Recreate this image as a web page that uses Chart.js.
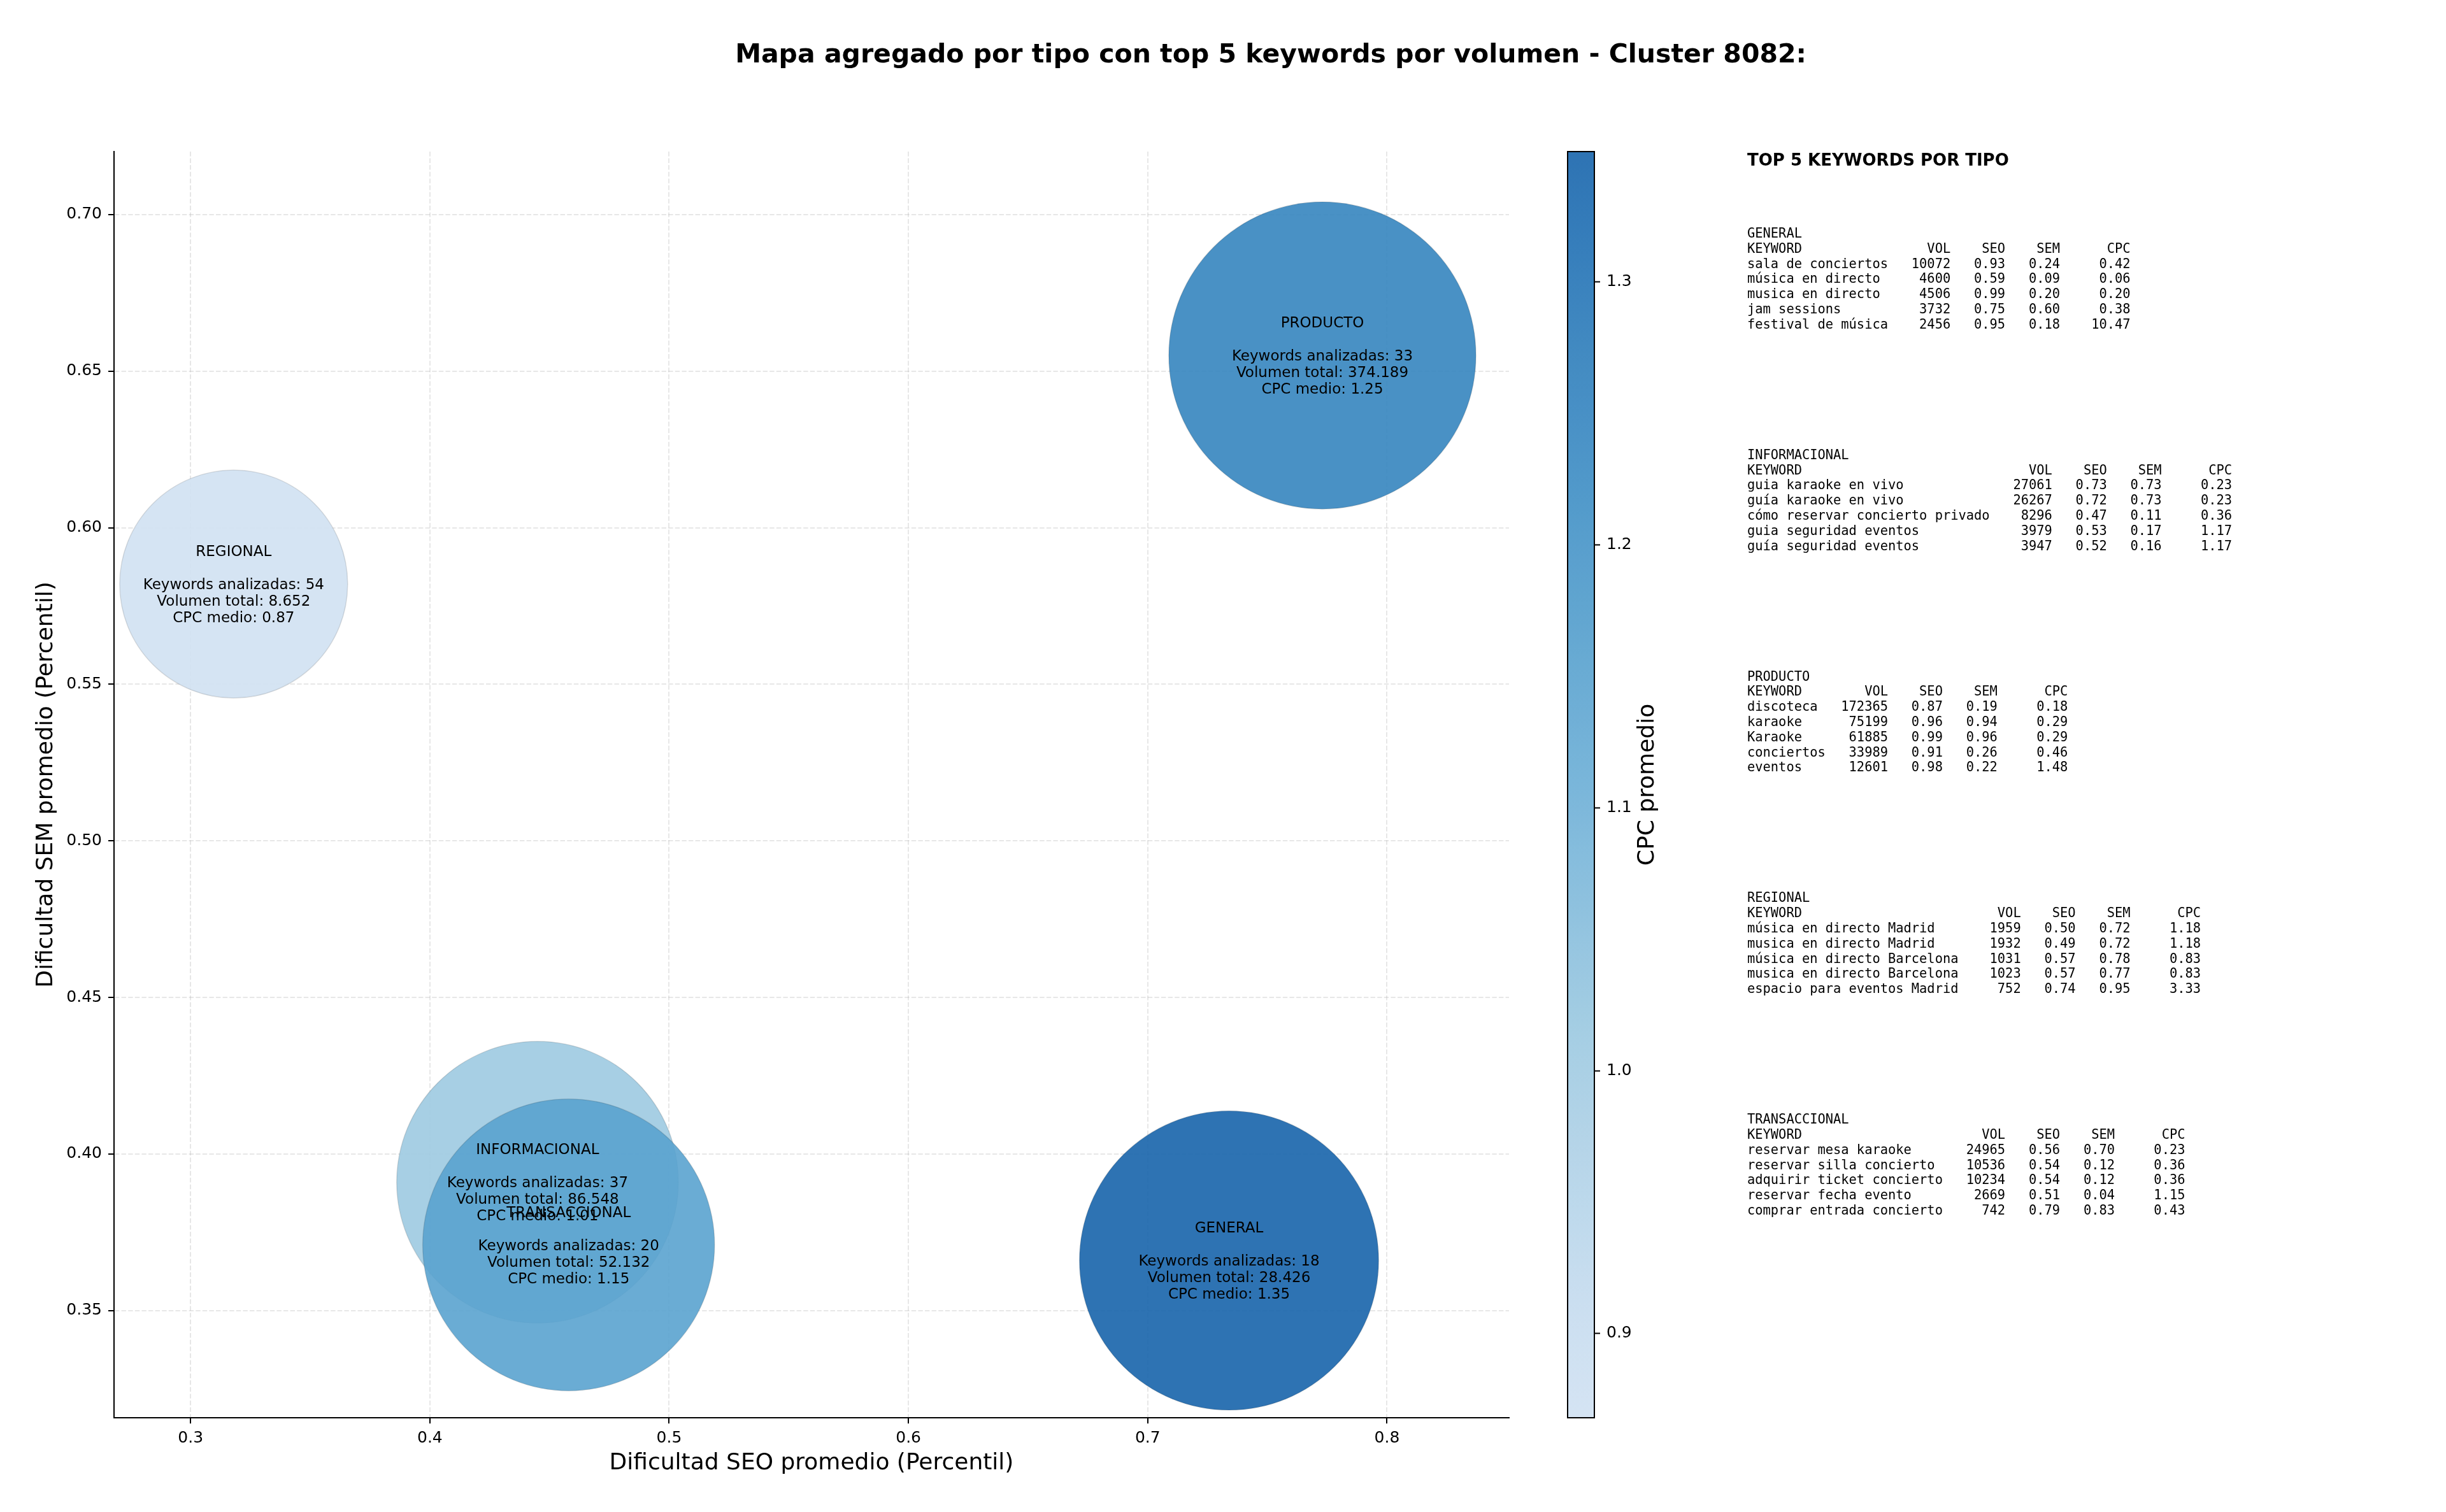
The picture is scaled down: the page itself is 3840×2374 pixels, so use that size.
<!DOCTYPE html>
<html>
<head>
<meta charset="utf-8">
<script src="https://cdn.jsdelivr.net/npm/chart.js@4.4.1/dist/chart.umd.min.js"></script>
<style>
  html, body { margin: 0; padding: 0; background: #fff; }
  #wrap { position: relative; width: 3840px; height: 2374px; overflow: hidden; }
  #main { position: absolute; left: 0; top: 0; width: 3840px; height: 2374px; }
  #cbar { position: absolute; left: 2400px; top: 0; width: 400px; height: 2374px; }
  .panel-title { position: absolute; left: 2743px; top: 235px; font: bold 26px/32px 'DejaVu Sans'; color: #000; white-space: pre; }
  pre.kw { position: absolute; left: 2743px; margin: 0; font: 20.4px/23.8px 'DejaVu Sans Mono'; color: #000; }
</style>
</head>
<body>
<div id="wrap">
  <canvas id="main" width="3840" height="2374"></canvas>
  <canvas id="cbar" width="400" height="2374"></canvas>
  <div id="panel"></div>
</div>
<script>
// Aggregated values per keyword type
var tipos = ['GENERAL', 'INFORMACIONAL', 'PRODUCTO', 'REGIONAL', 'TRANSACCIONAL'];
var seoMedio = [0.734, 0.445, 0.773, 0.318, 0.458];
var semMedio = [0.366, 0.391, 0.655, 0.582, 0.371];
var cpcMedio = [1.3496, 1.01, 1.25, 0.868, 1.15];
var numKeywords = [18, 37, 33, 54, 20];
var volumenTotal = [28426, 86548, 374189, 8652, 52132];
// marker area (pt^2) as passed to the scatter
var areaBurbuja = [35300, 31300, 37200, 20500, 33600];

// tick labels
var xTicks = [0.3, 0.4, 0.5, 0.6, 0.7, 0.8];
var yTicks = [0.35, 0.40, 0.45, 0.50, 0.55, 0.60, 0.65, 0.70];
var cbarTicks = [0.9, 1.0, 1.1, 1.2, 1.3];

// top 5 keywords per type: keyword, vol, seo, sem, cpc
var topGeneral = [
  ['sala de conciertos', 10072, 0.93, 0.24, 0.42],
  ['música en directo', 4600, 0.59, 0.09, 0.06],
  ['musica en directo', 4506, 0.99, 0.20, 0.20],
  ['jam sessions', 3732, 0.75, 0.60, 0.38],
  ['festival de música', 2456, 0.95, 0.18, 10.47]
];
var topInformacional = [
  ['guia karaoke en vivo', 27061, 0.73, 0.73, 0.23],
  ['guía karaoke en vivo', 26267, 0.72, 0.73, 0.23],
  ['cómo reservar concierto privado', 8296, 0.47, 0.11, 0.36],
  ['guia seguridad eventos', 3979, 0.53, 0.17, 1.17],
  ['guía seguridad eventos', 3947, 0.52, 0.16, 1.17]
];
var topProducto = [
  ['discoteca', 172365, 0.87, 0.19, 0.18],
  ['karaoke', 75199, 0.96, 0.94, 0.29],
  ['Karaoke', 61885, 0.99, 0.96, 0.29],
  ['conciertos', 33989, 0.91, 0.26, 0.46],
  ['eventos', 12601, 0.98, 0.22, 1.48]
];
var topRegional = [
  ['música en directo Madrid', 1959, 0.50, 0.72, 1.18],
  ['musica en directo Madrid', 1932, 0.49, 0.72, 1.18],
  ['música en directo Barcelona', 1031, 0.57, 0.78, 0.83],
  ['musica en directo Barcelona', 1023, 0.57, 0.77, 0.83],
  ['espacio para eventos Madrid', 752, 0.74, 0.95, 3.33]
];
var topTransaccional = [
  ['reservar mesa karaoke', 24965, 0.56, 0.70, 0.23],
  ['reservar silla concierto', 10536, 0.54, 0.12, 0.36],
  ['adquirir ticket concierto', 10234, 0.54, 0.12, 0.36],
  ['reservar fecha evento', 2669, 0.51, 0.04, 1.15],
  ['comprar entrada concierto', 742, 0.79, 0.83, 0.43]
];
var topPorTipo = [topGeneral, topInformacional, topProducto, topRegional, topTransaccional];

// Constants
var X_MIN = 0.268, X_MAX = 0.851;
var Y_MIN = 0.3158, Y_MAX = 0.7201;
var CPC_MIN = Math.min.apply(null, cpcMedio);
var CPC_MAX = Math.max.apply(null, cpcMedio);
var PX_PER_PT = 2.5;
var ALPHA = 0.9;
var GRID = 'rgba(176,176,176,0.3)';
var FONT = "'DejaVu Sans'";

Chart.defaults.font.family = FONT;
Chart.defaults.color = '#000';

// matplotlib Blues, used between 0.2 and 0.8
var BLUES = [[247,251,255],[222,235,247],[198,219,239],[158,202,225],[107,174,214],
             [66,146,198],[33,113,181],[8,81,156],[8,48,107]];

function blues(t) {
  var p = Math.max(0, Math.min(1, t)) * 8;
  var i = Math.min(7, Math.floor(p));
  var f = p - i;
  return BLUES[i].map(function (a, k) { return Math.round(a + (BLUES[i + 1][k] - a) * f); });
}

function colorFor(v) {
  var t = (v - CPC_MIN) / (CPC_MAX - CPC_MIN);
  var c = blues(0.2 + 0.6 * t);
  return 'rgba(' + c[0] + ',' + c[1] + ',' + c[2] + ',' + ALPHA + ')';
}

function miles(n) {
  return String(n).replace(/\B(?=(\d{3})+(?!\d))/g, '.');
}

function fixTicks(values) {
  return function (scale) { scale.ticks = values.map(function (v) { return { value: v }; }); };
}

// bubble labels drawn on top of all bubbles
var bubbleLabels = {
  id: 'bubbleLabels',
  afterDatasetsDraw: function (chart) {
    var ctx = chart.ctx;
    var meta = chart.getDatasetMeta(0);
    ctx.save();
    ctx.font = '23px ' + FONT;
    ctx.fillStyle = '#000';
    ctx.textAlign = 'center';
    ctx.textBaseline = 'middle';
    meta.data.forEach(function (pt, i) {
      var lines = [
        tipos[i],
        '',
        'Keywords analizadas: ' + numKeywords[i],
        'Volumen total: ' + miles(volumenTotal[i]),
        'CPC medio: ' + cpcMedio[i].toFixed(2)
      ];
      lines.forEach(function (s, k) {
        ctx.fillText(s, pt.x, pt.y + (k - 2) * 26 + 2);
      });
    });
    ctx.restore();
  }
};

var figTitle = {
  id: 'figTitle',
  afterDraw: function (chart) {
    var ctx = chart.ctx;
    ctx.save();
    ctx.font = 'bold 41px ' + FONT;
    ctx.fillStyle = '#000';
    ctx.textAlign = 'center';
    ctx.textBaseline = 'middle';
    ctx.fillText('Mapa agregado por tipo con top 5 keywords por volumen - Cluster 8082:', 1995, 87);
    ctx.restore();
  }
};

new Chart(document.getElementById('main'), {
  type: 'bubble',
  data: {
    datasets: [{
      data: tipos.map(function (t, i) {
        return { x: seoMedio[i], y: semMedio[i], r: Math.sqrt(areaBurbuja[i]) / 2 * PX_PER_PT };
      }),
      backgroundColor: cpcMedio.map(colorFor),
      borderColor: 'rgba(0,0,0,0.12)',
      borderWidth: 1.5
    }]
  },
  options: {
    responsive: false,
    animation: false,
    devicePixelRatio: 1,
    events: [],
    layout: { autoPadding: false, padding: { left: 0, top: 238, right: 1471, bottom: 0 } },
    plugins: { legend: { display: false }, tooltip: { enabled: false } },
    scales: {
      x: {
        type: 'linear', min: X_MIN, max: X_MAX, bounds: 'data',
        afterBuildTicks: fixTicks(xTicks),
        afterFit: function (s) { s.height = 148; },
        ticks: { callback: function (v) { return v.toFixed(1); }, font: { size: 25 }, color: '#000', padding: 8, maxRotation: 0, autoSkip: false },
        grid: { color: GRID, lineWidth: 2, tickColor: '#000', tickLength: 9, tickWidth: 2 },
        border: { display: true, color: '#000', width: 2, dash: [7.4, 3.2] },
        title: { display: true, text: 'Dificultad SEO promedio (Percentil)', font: { size: 36 }, color: '#000', padding: { top: 0, bottom: 55 } }
      },
      y: {
        type: 'linear', min: Y_MIN, max: Y_MAX, bounds: 'data',
        afterBuildTicks: fixTicks(yTicks),
        afterFit: function (s) { s.width = 179; },
        ticks: { callback: function (v) { return v.toFixed(2); }, font: { size: 25 }, color: '#000', padding: 10, autoSkip: false },
        grid: { color: GRID, lineWidth: 2, tickColor: '#000', tickLength: 9, tickWidth: 2 },
        border: { display: true, color: '#000', width: 2, dash: [7.4, 3.2] },
        title: { display: true, text: 'Dificultad SEM promedio (Percentil)', font: { size: 36 }, color: '#000', padding: { top: 51, bottom: 0 } }
      }
    }
  },
  plugins: [bubbleLabels, figTitle]
});

// COLORBAR

var cbarDraw = {
  id: 'cbarDraw',
  beforeDraw: function (chart) {
    var ctx = chart.ctx, a = chart.chartArea, y = chart.scales.y;
    var g = ctx.createLinearGradient(0, y.getPixelForValue(CPC_MIN), 0, y.getPixelForValue(CPC_MAX));
    for (var k = 0; k <= 40; k++) {
      g.addColorStop(k / 40, colorFor(CPC_MIN + (CPC_MAX - CPC_MIN) * k / 40));
    }
    ctx.save();
    ctx.fillStyle = g;
    ctx.fillRect(a.left, a.top, a.right - a.left, a.bottom - a.top);
    ctx.restore();
  },
  afterDraw: function (chart) {
    var ctx = chart.ctx, a = chart.chartArea;
    ctx.save();
    ctx.strokeStyle = '#000';
    ctx.lineWidth = 2;
    ctx.strokeRect(a.left, a.top, a.right - a.left, a.bottom - a.top);
    ctx.translate(187, (a.top + a.bottom) / 2);
    ctx.rotate(-Math.PI / 2);
    ctx.font = '36px ' + FONT;
    ctx.fillStyle = '#000';
    ctx.textAlign = 'center';
    ctx.textBaseline = 'middle';
    ctx.fillText('CPC promedio', 0, 0);
    ctx.restore();
  }
};

new Chart(document.getElementById('cbar'), {
  type: 'scatter',
  data: { datasets: [] },
  options: {
    responsive: false,
    animation: false,
    devicePixelRatio: 1,
    events: [],
    layout: { autoPadding: false, padding: { left: 61, top: 238, right: 0, bottom: 148 } },
    plugins: { legend: { display: false }, tooltip: { enabled: false } },
    scales: {
      x: { type: 'linear', display: false, min: 0, max: 1 },
      y: {
        type: 'linear', position: 'right', min: CPC_MIN, max: CPC_MAX, bounds: 'data',
        afterBuildTicks: fixTicks(cbarTicks),
        afterFit: function (s) { s.width = 297; },
        ticks: { callback: function (v) { return v.toFixed(1); }, font: { size: 25 }, color: '#000', padding: 10, autoSkip: false },
        grid: { drawOnChartArea: false, tickColor: '#000', tickLength: 9, tickWidth: 2 },
        border: { display: true, color: '#000', width: 2 }
      }
    }
  },
  plugins: [cbarDraw]
});

// KEYWORD TABLES

function tableText(name, rows) {
  var w = Math.max.apply(null, rows.map(function (r) { return r[0].length; }).concat(['KEYWORD'.length]));
  var lines = [name, 'KEYWORD'.padEnd(w) + 'VOL'.padStart(8) + 'SEO'.padStart(7) + 'SEM'.padStart(7) + 'CPC'.padStart(9)];
  rows.forEach(function (r) {
    lines.push(r[0].padEnd(w) + String(r[1]).padStart(8) + r[2].toFixed(2).padStart(7) +
      r[3].toFixed(2).padStart(7) + r[4].toFixed(2).padStart(9));
  });
  return lines.join('\n');
}

var panel = document.getElementById('panel');
var head = document.createElement('div');
head.className = 'panel-title';
head.textContent = 'TOP 5 KEYWORDS POR TIPO';
panel.appendChild(head);

tipos.forEach(function (t, i) {
  var pre = document.createElement('pre');
  pre.className = 'kw';
  pre.style.top = (355 + i * 347.8) + 'px';
  pre.textContent = tableText(t, topPorTipo[i]);
  panel.appendChild(pre);
});
</script>
</body>
</html>
